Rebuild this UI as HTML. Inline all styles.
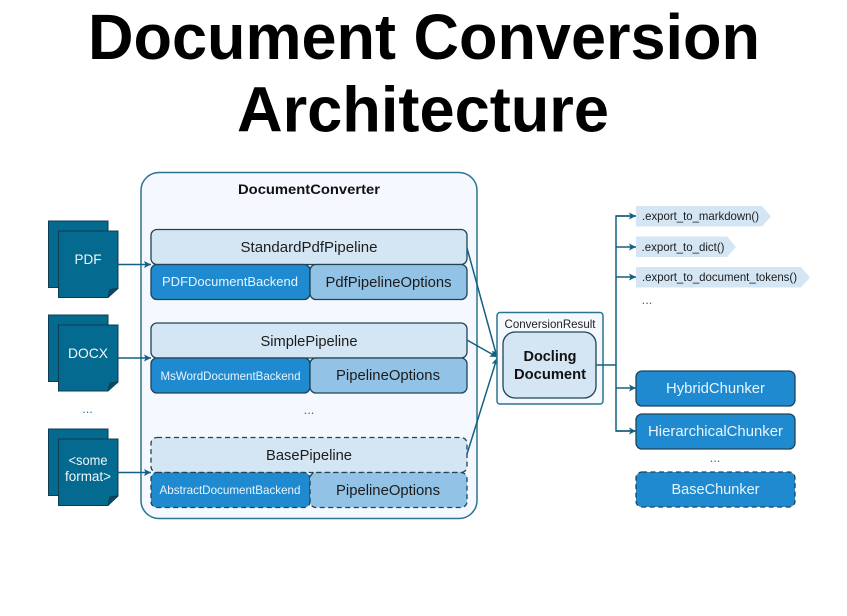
<!DOCTYPE html>
<html><head><meta charset="utf-8"><style>
html,body{margin:0;padding:0;background:#fff;width:847px;height:616px;overflow:hidden}
svg{display:block}
text{font-family:"Liberation Sans",sans-serif;text-anchor:middle}
.d{filter:blur(.3px)}
</style></head><body>
<svg width="847" height="616" viewBox="0 0 847 616" xmlns="http://www.w3.org/2000/svg">
<defs>
<marker id="a" markerUnits="userSpaceOnUse" markerWidth="8" markerHeight="8" refX="7" refY="4" orient="auto"><path d="M0 .5L7 4L0 7.5L1.5 4Z" fill="#156082"/></marker>
</defs>
<text x="424" y="59" font-size="64" font-weight="700" fill="#000" textLength="672" lengthAdjust="spacingAndGlyphs">Document Conversion</text>
<text x="423" y="131.500" font-size="64" font-weight="700" fill="#000" textLength="372" lengthAdjust="spacingAndGlyphs">Architecture</text>
<g class="d">
<rect x="141" y="172.500" width="336" height="346" rx="18" fill="#f5f8fe" stroke="#2a7490" stroke-width="1.500"/>
<text x="309" y="194" font-size="14" font-weight="700" fill="#111" textLength="142" lengthAdjust="spacingAndGlyphs">DocumentConverter</text>

<!-- doc icons -->
<g fill="#046a8f" stroke="#0e3c50" stroke-width="1">
<rect x="48.500" y="221" width="59.500" height="66.500"/>
<path d="M58.500 231H118V288.500L108 297.500H58.500Z"/><path d="M108 297.500L110 289.500L118 288.500" fill="#0b4a62"/>
<rect x="48.500" y="315" width="59.500" height="66.500"/>
<path d="M58.500 325H118V382L108 391H58.500Z"/><path d="M108 391L110 383L118 382" fill="#0b4a62"/>
<rect x="48.500" y="429" width="59.500" height="66.500"/>
<path d="M58.500 439H118V496L108 505.500H58.500Z"/><path d="M108 505.500L110 497L118 496" fill="#0b4a62"/>
</g>
<g fill="#f0f6fa" font-size="14">
<text x="88" y="264" textLength="27" lengthAdjust="spacingAndGlyphs">PDF</text>
<text x="88" y="358" textLength="40" lengthAdjust="spacingAndGlyphs">DOCX</text>
<text x="88" y="465" font-size="13.500" textLength="39" lengthAdjust="spacingAndGlyphs">&lt;some</text>
<text x="88" y="481" font-size="13.500" textLength="46" lengthAdjust="spacingAndGlyphs">format&gt;</text>
</g>

<!-- pipelines -->
<g stroke="#1d4457" stroke-width="1.300">
<rect x="151" y="229.500" width="316" height="35" rx="6" fill="#d4e6f4"/>
<rect x="151" y="264.500" width="159" height="35" rx="6" fill="#1f8acf"/>
<rect x="310" y="264.500" width="157" height="35" rx="6" fill="#92c3e7"/>
<rect x="151" y="323" width="316" height="35" rx="6" fill="#d4e6f4"/>
<rect x="151" y="358" width="159" height="35" rx="6" fill="#1f8acf"/>
<rect x="310" y="358" width="157" height="35" rx="6" fill="#92c3e7"/>
</g>
<g stroke="#1d4457" stroke-width="1.300" stroke-dasharray="5 3.500">
<rect x="151" y="437.500" width="316" height="35" rx="6" fill="#d4e6f4"/>
<rect x="151" y="472.500" width="159" height="35" rx="6" fill="#1f8acf"/>
<rect x="310" y="472.500" width="157" height="35" rx="6" fill="#92c3e7"/>
</g>
<g fill="#1c1c1c" font-size="15">
<text x="309" y="252" textLength="137" lengthAdjust="spacingAndGlyphs">StandardPdfPipeline</text>
<text x="309" y="346" textLength="97" lengthAdjust="spacingAndGlyphs">SimplePipeline</text>
<text x="309" y="460" textLength="86" lengthAdjust="spacingAndGlyphs">BasePipeline</text>
<text x="388.500" y="287" textLength="126" lengthAdjust="spacingAndGlyphs">PdfPipelineOptions</text>
<text x="388" y="380" textLength="104" lengthAdjust="spacingAndGlyphs">PipelineOptions</text>
<text x="388" y="495" textLength="104" lengthAdjust="spacingAndGlyphs">PipelineOptions</text>
</g>
<g fill="#eaf4fb">
<text x="230" y="286" font-size="13" textLength="136" lengthAdjust="spacingAndGlyphs">PDFDocumentBackend</text>
<text x="230.500" y="380" font-size="12" textLength="140" lengthAdjust="spacingAndGlyphs">MsWordDocumentBackend</text>
<text x="230" y="494" font-size="12" textLength="141" lengthAdjust="spacingAndGlyphs">AbstractDocumentBackend</text>
</g>

<!-- connectors in -->
<g fill="none" stroke="#156082" stroke-width="1.500" marker-end="url(#a)">
<path d="M118 264.500H151"/>
<path d="M118 358H151"/>
<path d="M118 472.500H151"/>
<path d="M467 248L497 357"/>
<path d="M467 340L497 357"/>
<path d="M467 454L497 358"/>
</g>

<!-- conversion result -->
<rect x="497" y="312.500" width="106" height="91.500" rx="3" fill="#f5f8fe" stroke="#2a7490" stroke-width="1.500"/>
<text x="550" y="328" font-size="12" fill="#222" textLength="91" lengthAdjust="spacingAndGlyphs">ConversionResult</text>
<rect x="503" y="332" width="93" height="66" rx="12" fill="#d4e6f4" stroke="#1d4457" stroke-width="1.300"/>
<text x="550" y="361" font-size="15" font-weight="700" fill="#111" textLength="53" lengthAdjust="spacingAndGlyphs">Docling</text>
<text x="550" y="379" font-size="15" font-weight="700" fill="#111" textLength="72" lengthAdjust="spacingAndGlyphs">Document</text>

<!-- exports -->
<g fill="#d4e6f4">
<path d="M636 206H762L771 216.500L762 226.500H636Z"/>
<path d="M636 236.500H727L736 247L727 257H636Z"/>
<path d="M636 267H801L810 277.500L801 287.500H636Z"/>
</g>
<g fill="#1c1c1c" font-size="12">
<text x="700.500" y="220" textLength="117" lengthAdjust="spacingAndGlyphs">.export_to_markdown()</text>
<text x="683" y="251" textLength="83" lengthAdjust="spacingAndGlyphs">.export_to_dict()</text>
<text x="719.500" y="281" textLength="155" lengthAdjust="spacingAndGlyphs">.export_to_document_tokens()</text>
</g>

<!-- chunkers -->
<g stroke="#1d4457" stroke-width="1.300" fill="#1f8acf">
<rect x="636" y="371" width="159" height="35" rx="6"/>
<rect x="636" y="414" width="159" height="35" rx="6"/>
<rect x="636" y="472" width="159" height="35" rx="6" stroke-dasharray="5 3.500"/>
</g>
<g fill="#eaf4fb" font-size="15">
<text x="715.500" y="393" textLength="99" lengthAdjust="spacingAndGlyphs">HybridChunker</text>
<text x="715.500" y="436" textLength="135" lengthAdjust="spacingAndGlyphs">HierarchicalChunker</text>
<text x="715.500" y="494" textLength="88" lengthAdjust="spacingAndGlyphs">BaseChunker</text>
</g>

<!-- connectors out -->
<path d="M596 365H616" fill="none" stroke="#156082" stroke-width="1.500"/>
<path d="M635 216H616V431H635" fill="none" stroke="#156082" stroke-width="1.500"/>
<g fill="none" stroke="#156082" stroke-width="1.500" marker-end="url(#a)">
<path d="M616 216H636"/>
<path d="M616 247H636"/>
<path d="M616 277H636"/>
<path d="M616 388H636"/>
<path d="M616 431H636"/>
</g>

<!-- ellipses -->
<g fill="#2a7490" font-size="13">
<text x="87.500" y="413">...</text>
<text x="309" y="414">...</text>
<text x="647" y="304">...</text>
<text x="715" y="462">...</text>
</g>
</g>
</svg>
</body></html>
